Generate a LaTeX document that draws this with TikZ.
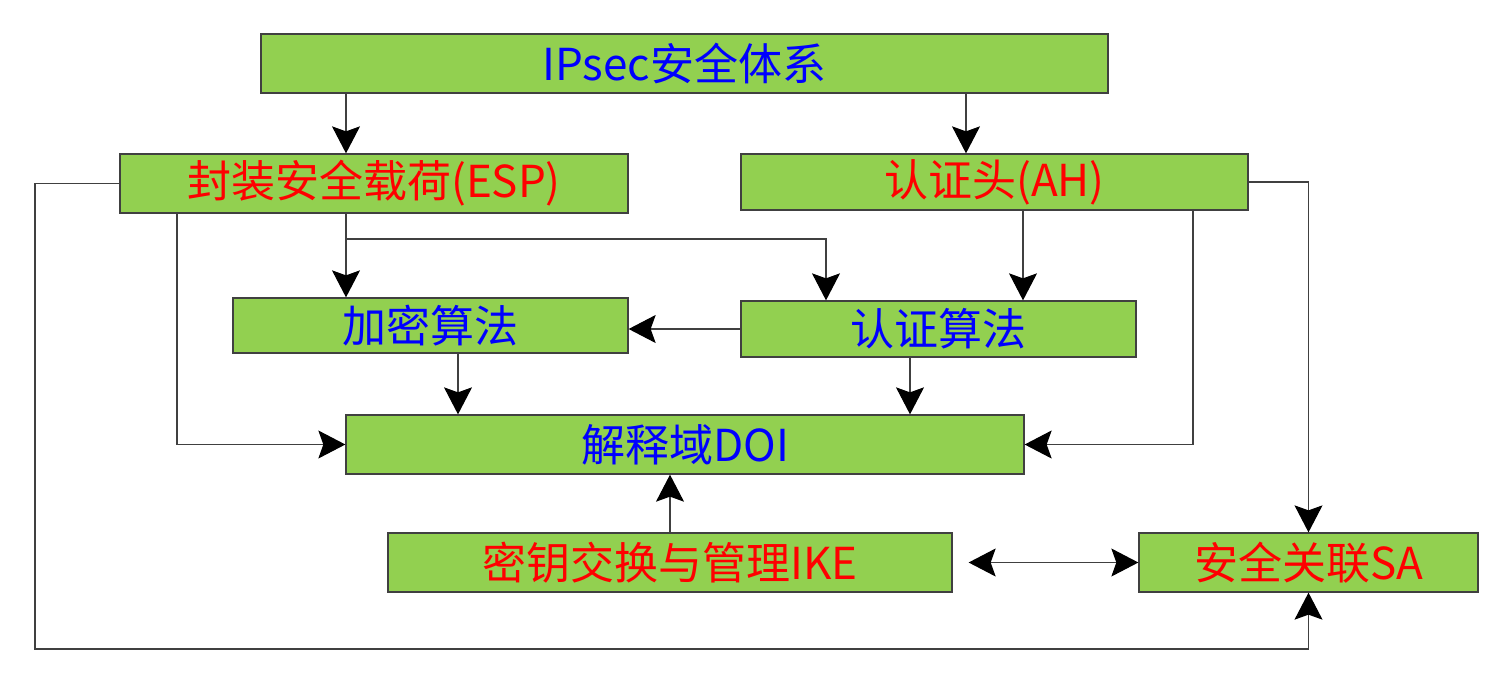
\documentclass[tikz,border=0pt]{standalone}
\usepackage{fontspec}
\setmainfont{Noto Sans CJK SC}
\usetikzlibrary{arrows.meta}
\definecolor{boxgreen}{HTML}{92D050}
\definecolor{linegray}{HTML}{404040}
\definecolor{txtblue}{HTML}{0000FF}
\definecolor{txtred}{HTML}{FF0000}
\tikzset{
  box/.style={draw=linegray, line width=1.3pt, fill=boxgreen, inner sep=0pt,
    font=\fontsize{44}{52}\selectfont},
  bluebox/.style={box, text=txtblue},
  redbox/.style={box, text=txtred},
  conn/.style={draw=linegray, line width=1.1pt},
  tip/.tip={Stealth[length=27pt,width=28pt,inset=5pt,color=black,fill=black]},
  arr/.style={conn, -tip},
  darr/.style={conn, tip-tip}
}
\begin{document}
\begin{tikzpicture}[x=1pt,y=-1pt]
\useasboundingbox (0,0) rectangle (1497,673);
\node[bluebox, minimum width=847pt, minimum height=59pt] (ipsec) at (684.5,63.5) {IPsec安全体系};
\node[redbox, minimum width=508pt, minimum height=59pt] (esp) at (374,183.5) {封装安全载荷(ESP)};
\node[redbox, minimum width=507pt, minimum height=56pt] (ah) at (994.5,182) {认证头(AH)};
\node[bluebox, minimum width=395pt, minimum height=55pt] (enc) at (430.5,325.5) {加密算法};
\node[bluebox, minimum width=395pt, minimum height=56pt] (auth) at (938.5,329) {认证算法};
\node[bluebox, minimum width=678pt, minimum height=59pt] (doi) at (685,444.5) {解释域DOI};
\node[redbox, minimum width=564pt, minimum height=59pt] (ike) at (670,562.5) {密钥交换与管理IKE};
\node[redbox, minimum width=339pt, minimum height=59pt] (sa) at (1308.5,562.5) {安全关联SA};

\coordinate (cA) at (346,0);
\coordinate (cB) at (966,0);
\coordinate (br) at (826,239);
\coordinate (cC) at (1023,0);
\coordinate (cD) at (458,0);
\coordinate (cE) at (910,0);
\coordinate (cF) at (177,0);
\coordinate (cG) at (1193,0);
\coordinate (cL) at (35,649);

\draw[arr] (ipsec.south -| cA) -- (esp.north -| cA);
\draw[arr] (ipsec.south -| cB) -- (ah.north -| cB);
\draw[arr] (esp.south -| cA) -- (enc.north -| cA);
\draw[arr] (cA |- br) -- (br) -- (auth.north -| br);
\draw[arr] (ah.south -| cC) -- (auth.north -| cC);
\draw[arr] (auth.west) -- (enc.east |- auth.west);
\draw[arr] (enc.south -| cD) -- (doi.north -| cD);
\draw[arr] (auth.south -| cE) -- (doi.north -| cE);
\draw[arr] (esp.south -| cF) |- (doi.west);
\draw[arr] (ah.south -| cG) |- (doi.east);
\draw[arr] (ike.north) -- (doi.south -| ike.north);
\draw[darr, shorten <=16pt] (ike.east) -- (sa.west);
\draw[arr] (ah.east) -| (sa.north);
\draw[arr] (esp.west) -| (cL) -| (sa.south);
\end{tikzpicture}
\end{document}
